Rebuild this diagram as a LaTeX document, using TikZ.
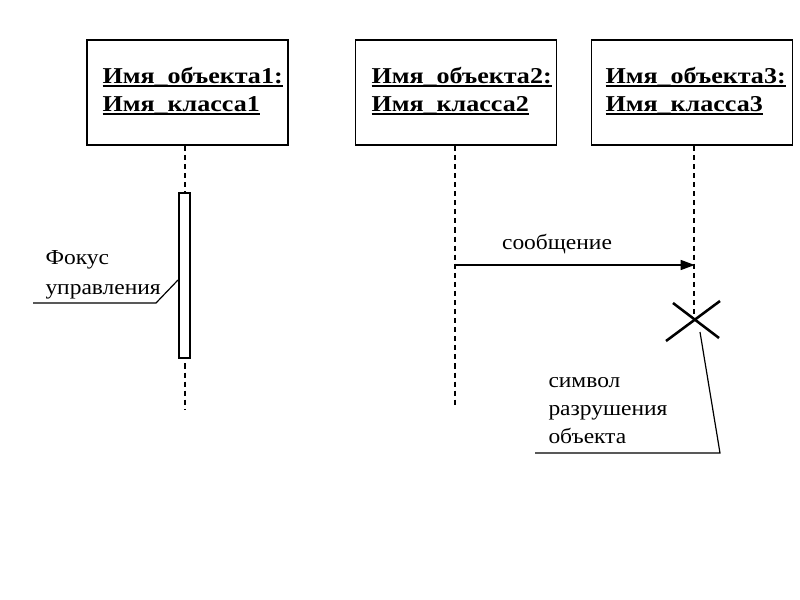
\documentclass[tikz,border=0pt]{standalone}
\usepackage{fontspec}
\setmainfont{Liberation Serif}
\newfontfamily\boxfont{Liberation Serif}[FakeStretch=1.15]
\newfontfamily\labelfont{Liberation Serif}[FakeStretch=1.1]
\usepackage{tikz}
\usetikzlibrary{arrows.meta,calc}
\tikzset{every picture/.style={line width=0.75pt}}
\tikzset{
  objbox/.style={draw, line width=1.3pt, minimum width=150.75pt, minimum height=78.75pt, inner sep=0pt},
  objtext/.style={anchor=west, align=left, inner sep=0pt, font=\fontsize{17}{21}\boxfont\bfseries},
  lifeline/.style={dashed, dash pattern=on 3.8pt off 3pt, line width=0.9pt},
  plaintext/.style={anchor=west, align=left, inner sep=0pt, font=\fontsize{16}{21}\labelfont},
  leader/.style={line width=0.9pt}
}
\newcommand\boxul[1]{\setbox0\hbox{#1}\leavevmode\rlap{\rule[-3pt]{\wd0}{1.3pt}}\box0}

\begin{document}
\begin{tikzpicture}[x=0.75pt,y=0.75pt,yscale=-1,xscale=1]
\useasboundingbox (0,0) rectangle (800,600);

%Shape: Rectangle [object 1]
\node[objbox] (obj1) at (187.5,92.5) {};
%Shape: Rectangle [object 2]
\node[objbox] (obj2) at (456,92.5) {};
%Shape: Rectangle [object 3]
\node[objbox] (obj3) at (692,92.5) {};

% Text Node
\node[objtext] (name1) at (102,91) {\boxul{Имя\_объекта1:}\\\boxul{Имя\_класса1}};
% Text Node
\node[objtext] (name2) at (371,91) {\boxul{Имя\_объекта2:}\\\boxul{Имя\_класса2}};
% Text Node
\node[objtext] (name3) at (605,91) {\boxul{Имя\_объекта3:}\\\boxul{Имя\_класса3}};

%Straight Lines [lifelines]
\coordinate (end1) at (185,410);
\coordinate (end2) at (455,408);
\coordinate (destroy) at (694,320);
\draw[lifeline] (obj1.south -| end1) -- (end1);
\draw[lifeline] (obj2.south -| end2) -- (end2);
\draw[lifeline] (obj3.south -| destroy) -- (destroy);

%Shape: Rectangle [focus of control]
\node[draw, fill=white, line width=1.1pt, minimum width=8.25pt, minimum height=123.75pt, inner sep=0pt] (focus) at (184.5,275.5) {};

%Straight Lines [message]
\coordinate (msgfrom) at (455,265);
\coordinate (msgto) at (694,265);
\draw[line width=1.1pt, -{Triangle[length=10.5pt,width=7.5pt]}, shorten >=-0.5pt] (msgfrom) -- (msgto);
% Text Node
\node[font=\fontsize{16}{21}\labelfont] (msglabel) at (557,244) {сообщение};

%Straight Lines [destruction symbol]
\draw[line width=1.9pt] ($(destroy)+(-28,21)$) -- ($(destroy)+(26,-19)$);
\draw[line width=1.9pt] ($(destroy)+(-21,-17)$) -- ($(destroy)+(25,18)$);

% Text Node
\node[plaintext, font=\fontsize{16}{22.5}\labelfont] (focuslabel) at (45,275) {Фокус\\управления};
\coordinate (fa) at (33,303);
\coordinate (fb) at (156,303);
\coordinate (fc) at (178,280);
\draw[leader] (fa) -- (fb) -- (fc);

% Text Node
\node[plaintext] (destroylabel) at (548,411) {символ\\разрушения\\объекта};
\coordinate (da) at (535,453);
\coordinate (db) at (720,453);
\coordinate (dc) at (700,332);
\draw[leader] (da) -- (db) -- (dc);

\end{tikzpicture}
\end{document}
